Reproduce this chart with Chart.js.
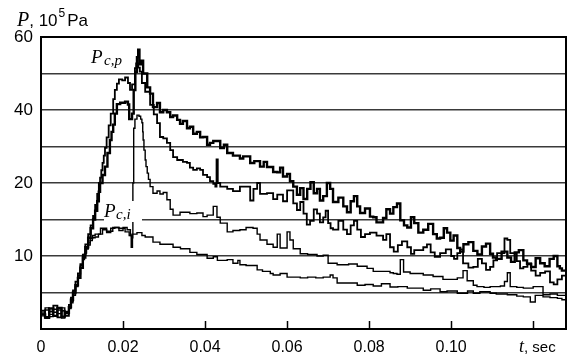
<!DOCTYPE html>
<html><head><meta charset="utf-8">
<script src="https://cdn.jsdelivr.net/npm/chart.js@4"></script>
<style>html,body{margin:0;padding:0;background:#fff}</style>
</head><body>
<canvas id="c" width="580" height="363"></canvas>
<script>
// ---- data (t in seconds, P in 10^5 Pa) ----
const xTickValues = [0, 0.02, 0.04, 0.06, 0.08, 0.10, 0.12];
const xTickLabels = ['0', '0.02', '0.04', '0.06', '0.08', '0.10', ''];
const yTickLabels = {2: '10', 4: '20', 6: '40', 8: '60'};

// curve A (thick, P_c,p)
const tA = [0,0.001,0.002,0.003,0.004,0.005,0.0058,0.0068,0.0073,0.0078,0.0084,0.009,0.0096,0.0102,0.0108,0.0115,0.0121,0.0127,0.0132,0.0137,0.0141,0.0144,0.015,0.0156,0.0162,0.0168,0.0172,0.0176,0.018,0.0185,0.0193,0.0205,0.0212,0.0215,0.0222,0.0226,0.023,0.0234,0.0237,0.024,0.0244,0.0249,0.0259,0.0266,0.0273,0.0283,0.029,0.0298,0.0307,0.0315,0.0322,0.0332,0.0339,0.0346,0.0356,0.0363,0.0371,0.038,0.0388,0.0395,0.0405,0.0412,0.042,0.0437,0.0446,0.0454,0.0468,0.0485,0.0493,0.051,0.052,0.0534,0.0543,0.0551,0.0566,0.0576,0.0583,0.059,0.06,0.0607,0.0615,0.0624,
  0.0632,0.064,0.0649,0.0657,0.0665,0.0673,0.068,0.0688,0.0697,0.0705,0.0712,0.0725,0.0737,0.0746,0.0755,0.0763,0.0771,0.0778,0.079,0.0802,0.081,0.0818,0.0834,0.0842,0.0851,0.0859,0.0868,0.0876,0.0885,0.0893,0.0902,0.091,0.092,0.0932,0.0944,0.0956,0.0965,0.0973,0.0982,0.099,0.0998,0.1006,0.1015,0.1022,0.103,0.1042,0.1054,0.1064,0.1075,0.1085,0.1095,0.1102,0.111,0.1123,0.1137,0.1146,0.1155,0.1165,0.1176,0.1185,0.1195,0.1206,0.1217,0.1228,0.124,0.125,0.1259,0.1265,0.127,0.128];
const pA = [2.0,1.6,2.8,1.8,2.9,1.7,2.2,3.0,4.0,5.0,6.0,7.0,8.4,9.8,11.2,12.5,13.8,15.0,16.2,17.5,18.8,20.0,22.2,24.5,28.2,31.8,34.0,36.0,39.0,41.6,42.0,42.3,41.5,37.5,39.0,45.5,50.5,54.5,56.5,52.5,53.5,50.0,46.2,44.5,40.8,41.9,39.4,40.0,39.4,38.1,38.5,37.3,36.2,37.0,35.0,35.4,33.5,34.0,32.5,32.6,30.5,31.0,31.5,29.6,30.5,28.2,27.5,26.7,27.3,25.5,26.0,24.5,25.8,24.4,23.0,22.9,24.2,21.8,22.5,20.5,19.5,18.4,
  19.3,17.8,19.2,20.2,18.6,19.2,17.6,18.2,20.0,19.2,17.4,18.0,16.8,16.0,17.5,18.2,16.8,15.9,16.5,15.4,15.3,14.6,15.2,16.4,15.8,16.7,17.2,14.9,14.2,13.9,15.3,14.5,13.2,13.6,14.4,13.0,12.4,12.5,13.8,13.2,12.1,12.8,11.1,10.6,11.6,11.9,10.7,10.2,11.3,11.7,10.3,9.8,9.6,10.6,9.8,9.2,10.5,10.8,9.4,8.9,8.5,9.7,9.0,8.6,9.6,10.0,8.6,8.3,8.0,8.2];

// curve B
const tB = [0,0.001,0.002,0.003,0.004,0.005,0.0058,0.0068,0.0073,0.0078,0.0084,0.009,0.0096,0.0102,0.0108,0.0115,0.0121,0.0127,0.0132,0.0137,0.0141,0.0144,0.0147,0.015,0.0153,0.0156,0.016,0.0165,0.017,0.0176,0.018,0.0185,0.019,0.0198,0.0205,0.0212,0.0217,0.0222,0.0229,0.0232,0.0237,0.0241,0.0246,0.0254,0.0266,0.0275,0.0283,0.029,0.0298,0.0307,0.0315,0.0322,0.0332,0.0346,0.0356,0.0363,0.0371,0.038,0.0388,0.0395,0.0405,0.0412,0.042,0.0425,0.0428,0.0431,0.0437,0.0454,0.0468,0.0485,0.0493,0.051,0.0518,0.0527,0.0534,0.0551,0.0566,0.0576,0.059,
  0.06,0.0607,0.0615,0.0624,0.0632,0.064,0.0648,0.0656,0.0665,0.0673,0.068,0.0688,0.0694,0.07,0.0706,0.0712,0.0725,0.0737,0.0746,0.0755,0.0763,0.0771,0.078,0.079,0.0802,0.0818,0.0834,0.0842,0.0851,0.086,0.087,0.088,0.0893,0.0902,0.091,0.0924,0.0932,0.0941,0.095,0.096,0.0973,0.0987,0.1,0.1007,0.1015,0.1022,0.1029,0.1042,0.1054,0.1065,0.1075,0.1085,0.1095,0.1103,0.1112,0.113,0.1137,0.1144,0.116,0.1168,0.1176,0.1186,0.1195,0.1206,0.1217,0.1229,0.1241,0.125,0.1259,0.127,0.128];
const pB = [2.5,1.5,2.4,3.2,1.6,2.5,1.8,3.3,4.3,5.3,6.5,7.6,8.9,10.2,11.6,13.0,14.2,15.5,17.0,18.5,20.0,21.5,23.5,25.5,27.5,29.6,32.5,35.8,39.0,43.0,45.5,47.2,48.4,48.1,48.9,47.4,45.5,47.0,51.5,52.8,51.6,50.5,47.4,45.0,41.4,38.8,36.4,32.6,32.2,31.0,29.0,27.1,26.3,25.8,25.5,24.2,23.6,24.0,23.6,22.2,21.6,20.5,19.9,19.5,26.5,20.0,19.5,19.2,18.9,19.5,19.5,17.6,19.2,20.0,18.5,18.6,17.8,18.4,17.5,
  19.0,19.0,17.2,16.3,17.4,15.8,14.3,14.8,16.4,15.8,14.6,15.3,16.2,14.5,13.8,13.6,14.8,13.6,13.0,14.2,14.8,13.6,12.6,13.0,13.2,12.8,12.2,13.0,11.2,10.6,11.5,12.0,11.2,10.3,10.8,10.8,11.2,11.6,10.5,9.9,10.4,10.9,10.0,9.6,10.4,10.9,9.0,8.4,8.5,9.6,9.0,8.1,8.5,9.4,10.4,12.4,12.2,10.4,9.3,8.3,8.5,9.0,8.0,7.3,7.7,7.9,6.4,6.1,6.8,7.3,6.7];

// curve C (branches off at P_c,i)
const tC = [0,0.001,0.002,0.003,0.004,0.005,0.0058,0.0068,0.0073,0.0078,0.0084,0.009,0.0096,0.0102,0.0106,0.011,0.0115,0.012,0.0126,0.0132,0.0145,0.016,0.0175,0.019,0.0205,0.0215,0.0221,0.0223,0.0224,0.0226,0.0229,0.0234,0.0239,0.0243,0.0246,0.0248,0.0249,0.0251,0.0254,0.0256,0.0259,0.0262,0.0266,0.0273,0.0283,0.029,0.0298,0.0307,0.0315,0.0322,0.0339,0.0346,0.0363,0.038,0.0395,0.0405,0.042,0.0429,0.0437,0.0454,0.0468,0.0485,0.05,0.0517,0.0527,0.0534,0.0551,0.0566,0.0576,0.0583,0.06,0.0607,0.0615,0.0632,0.065,0.0673,0.0688,0.07,0.0722,0.075,0.0771,0.0795,0.081,0.0834,0.0851,0.0859,0.0868,0.0876,0.0884,0.09,0.0932,0.0956,0.098,0.1,0.1015,0.1029,0.1039,0.1054,0.1063,0.108,0.1095,0.112,0.113,0.1137,0.1144,0.116,0.1176,0.12,0.1217,0.1224,0.1241,0.1259,0.128];
const pC = [2.2,2.9,1.7,2.3,2.6,1.5,2.4,2.8,3.6,4.6,5.8,7.0,8.3,9.5,10.3,11.0,11.8,12.4,12.8,13.0,13.8,13.4,13.9,13.8,13.3,12.8,11.2,12.5,20.0,35.0,37.5,38.6,38.3,37.5,36.5,34.0,31.8,29.0,26.3,24.5,22.7,21.0,19.5,18.6,18.9,18.5,18.7,17.7,16.4,15.6,16.0,16.0,15.8,15.9,15.4,15.6,16.8,15.3,14.5,13.3,13.5,13.6,13.9,13.8,13.0,12.2,11.6,11.2,13.0,11.1,13.3,12.2,11.0,10.3,10.2,10.0,10.1,9.0,8.8,8.9,8.6,8.3,7.9,7.9,7.7,7.6,7.5,9.5,7.8,7.6,7.4,7.2,6.8,6.8,7.0,8.0,6.6,6.0,5.8,5.7,5.8,5.9,6.5,7.7,5.8,5.7,5.6,5.8,5.8,4.7,4.8,4.6,4.0];

// curve D (lowest, P_c,i)
const tD = [0,0.001,0.002,0.003,0.004,0.005,0.0058,0.0068,0.0073,0.0078,0.0084,0.009,0.0096,0.0102,0.0107,0.0111,0.0115,0.012,0.0125,0.0132,0.014,0.015,0.016,0.017,0.018,0.019,0.02,0.021,0.0218,0.022,0.0222,0.0234,0.0246,0.0254,0.0273,0.029,0.0322,0.034,0.0363,0.038,0.0405,0.042,0.043,0.0454,0.0468,0.048,0.0485,0.05,0.0527,0.054,0.0559,0.0566,0.0583,0.06,0.0632,0.065,0.067,0.0688,0.0705,0.0712,0.0722,0.074,0.0771,0.079,0.081,0.083,0.0851,0.087,0.0893,0.0932,0.095,0.0973,0.099,0.1015,0.104,0.1054,0.107,0.1095,0.111,0.1137,0.116,0.1176,0.1193,0.1205,0.1224,0.1241,0.1259,0.127,0.128];
const pD = [1.8,2.6,2.0,2.7,2.1,2.9,2.1,2.9,3.8,4.8,6.0,7.3,8.7,10.0,10.4,11.0,11.5,12.1,12.5,12.6,13.0,13.6,13.2,13.8,13.9,13.5,13.9,13.6,12.8,11.2,13.0,13.2,12.8,12.6,11.9,11.6,11.2,11.0,10.5,10.2,9.7,9.9,9.4,9.5,9.0,9.4,8.8,8.7,8.1,7.9,7.6,7.4,7.6,7.1,7.0,7.1,7.0,7.1,7.4,7.0,6.3,6.3,6.0,6.1,5.9,6.2,5.75,5.8,5.6,5.3,5.5,5.1,5.2,4.9,5.2,4.9,5.1,4.9,4.8,4.7,4.5,4.4,3.7,4.6,4.4,4.3,4.2,4.0,3.6];

// the printed pressure axis is piecewise: 5 per grid step up to 20, 10 per step above
function toAxis(p) { return p <= 20 ? p / 5 : 4 + (p - 20) / 10; }
function series(t, p) { return t.map((v, i) => ({x: v, y: toAxis(p[i])})); }

const SERIF = '"Liberation Serif", "DejaVu Serif", serif';
const SANS = '"Liberation Sans", Arial, sans-serif';

const decor = {
  id: 'decor',
  afterDraw(chart) {
    const {ctx, chartArea: a, scales: {x}} = chart;
    ctx.save();
    ctx.strokeStyle = '#000';
    ctx.lineWidth = 2;
    ctx.strokeRect(a.left, a.top, a.right - a.left, a.bottom - a.top);
    ctx.lineWidth = 1.5;
    xTickValues.forEach(v => {
      if (v === 0) return;
      const px = Math.round(x.getPixelForValue(v)) + 0.5;
      ctx.beginPath(); ctx.moveTo(px, a.bottom); ctx.lineTo(px, a.bottom - 8); ctx.stroke();
    });
    ctx.fillStyle = '#000';
    ctx.textBaseline = 'alphabetic';
    ctx.textAlign = 'left';
    let cx = 17;
    ctx.font = 'italic 20px ' + SERIF; ctx.fillText('P', cx, 26); cx += ctx.measureText('P').width;
    ctx.font = '17px ' + SANS; ctx.fillText(', 10', cx, 26); cx += ctx.measureText(', 10').width + 1;
    ctx.font = '12px ' + SANS; ctx.fillText('5', cx, 17); cx += ctx.measureText('5').width + 2;
    ctx.font = '17px ' + SANS; ctx.fillText('Pa', cx, 26);
    cx = 519;
    ctx.font = 'italic 18px ' + SERIF; ctx.fillText('t', cx, 352); cx += ctx.measureText('t').width;
    ctx.font = '15px ' + SANS; ctx.fillText(', sec', cx, 352);
    ctx.font = 'italic 19px ' + SERIF; ctx.fillText('P', 91, 63);
    ctx.font = 'italic 15px ' + SERIF; ctx.fillText('c,p', 104, 65);
    ctx.fillStyle = '#fff';
    ctx.fillRect(104, 201, 38, 21);
    ctx.fillStyle = '#000';
    ctx.font = 'italic 19px ' + SERIF; ctx.fillText('P', 104, 217);
    ctx.font = 'italic 15px ' + SERIF; ctx.fillText('c,i', 116, 219);
    ctx.restore();
  }
};

const ds = (t, p, w) => ({data: series(t, p), borderColor: '#000', borderWidth: w, pointRadius: 0, tension: 0, stepped: true, fill: false});

new Chart(document.getElementById('c'), {
  type: 'line',
  data: {datasets: [ds(tA, pA, 2.4), ds(tB, pB, 1.8), ds(tC, pC, 1.4), ds(tD, pD, 1.4)]},
  options: {
    responsive: false,
    animation: false,
    devicePixelRatio: 1,
    layout: {padding: {left: 0, right: 14, top: 37, bottom: 0}},
    plugins: {legend: {display: false}, tooltip: {enabled: false}},
    scales: {
      x: {
        type: 'linear', min: 0, max: 0.128,
        afterBuildTicks: s => { s.ticks = xTickValues.map(v => ({value: v})); },
        afterFit: s => { s.height = 34; },
        grid: {drawOnChartArea: false, drawTicks: false},
        border: {display: true, color: '#000', width: 2},
        ticks: {color: '#000', padding: 9, maxRotation: 0, font: {family: SANS, size: 16},
          callback: (v, i) => xTickLabels[i]}
      },
      y: {
        type: 'linear', min: 0, max: 8,
        afterBuildTicks: s => { s.ticks = [0,1,2,3,4,5,6,7,8].map(v => ({value: v})); },
        afterFit: s => { s.width = 41; },
        grid: {color: '#3a3a3a', lineWidth: 1.5, drawTicks: false},
        border: {display: true, color: '#000', width: 2},
        ticks: {color: '#000', padding: 8, font: {family: SANS, size: 17},
          callback: v => yTickLabels[v] || ''}
      }
    }
  },
  plugins: [decor]
});
</script>
</body></html>
